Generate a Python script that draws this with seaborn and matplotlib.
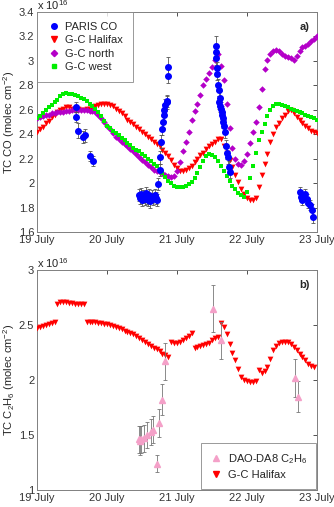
import numpy as np
import pandas as pd
import matplotlib
matplotlib.use("Agg")
import matplotlib.pyplot as plt
import seaborn as sns
from matplotlib.lines import Line2D
from matplotlib.ticker import FuncFormatter

sns.set_style("white")
plt.rcParams["font.family"] = ["Liberation Sans", "DejaVu Sans"]
plt.rcParams["mathtext.fontset"] = "custom"
plt.rcParams["mathtext.rm"] = "Liberation Sans"
plt.rcParams["mathtext.it"] = "Liberation Sans:italic"

day_labels = ["19 July", "20 July", "21 July", "22 July", "23 July"]

# ---- panel a: hourly model CO (x 1e16), hours from 19 July 00:00
gc_halifax_co = [
    2.42, 2.44, 2.46, 2.49, 2.51, 2.54, 2.56, 2.58, 2.60, 2.61, 2.62, 2.62,
    2.61, 2.61, 2.61, 2.60, 2.60, 2.61, 2.61, 2.62, 2.63, 2.64, 2.65, 2.65,
    2.65, 2.64, 2.63, 2.61, 2.59, 2.57, 2.55, 2.52, 2.50, 2.48, 2.46, 2.44,
    2.42, 2.40, 2.38, 2.36, 2.34, 2.32, 2.30, 2.27, 2.25, 2.22, 2.19, 2.15,
    2.12, 2.10, 2.10, 2.11, 2.12, 2.14, 2.17, 2.20, 2.23, 2.25, 2.28, 2.30,
    2.32, 2.34, 2.36, 2.36, 2.30, 2.25, 2.19, 2.13, 2.07, 2.01, 1.95, 1.91,
    1.88, 1.86, 1.86, 1.88, 1.97, 2.07, 2.16, 2.24, 2.34, 2.40, 2.46, 2.49,
    2.53, 2.56, 2.59, 2.60, 2.57, 2.54, 2.52, 2.49, 2.47, 2.45, 2.43, 2.42,
    2.41]
gc_north_co = [
    2.53, 2.54, 2.55, 2.56, 2.56, 2.57, 2.57, 2.58, 2.58, 2.58, 2.59, 2.59,
    2.60, 2.60, 2.60, 2.60, 2.60, 2.60, 2.59, 2.59, 2.58, 2.56, 2.53, 2.50,
    2.47, 2.44, 2.41, 2.38, 2.36, 2.34, 2.32, 2.30, 2.28, 2.26, 2.24, 2.21,
    2.19, 2.17, 2.15, 2.13, 2.11, 2.10, 2.09, 2.08, 2.07, 2.06, 2.05, 2.06,
    2.10, 2.17, 2.26, 2.34, 2.42, 2.52, 2.59, 2.65, 2.72, 2.80, 2.85, 2.90,
    2.95, 3.01, 3.06, 2.96, 2.84, 2.65, 2.45, 2.29, 2.20, 2.16, 2.15, 2.18,
    2.24, 2.33, 2.42, 2.50, 2.62, 2.77, 2.93, 3.01, 3.06, 3.08, 3.09, 3.08,
    3.06, 3.04, 3.03, 3.02, 3.01, 3.04, 3.08, 3.11, 3.12, 3.14, 3.16, 3.18,
    3.20]
gc_west_co = [
    2.53, 2.55, 2.57, 2.60, 2.62, 2.64, 2.66, 2.68, 2.71, 2.73, 2.74, 2.73,
    2.73, 2.72, 2.71, 2.70, 2.69, 2.67, 2.65, 2.63, 2.61, 2.58, 2.55, 2.51,
    2.47, 2.45, 2.43, 2.41, 2.39, 2.37, 2.35, 2.33, 2.31, 2.29, 2.27, 2.26,
    2.24, 2.22, 2.20, 2.18, 2.16, 2.14, 2.11, 2.08, 2.05, 2.02, 2.00, 1.98,
    1.97, 1.97, 1.97, 1.98, 1.99, 2.01, 2.04, 2.08, 2.13, 2.18, 2.22, 2.24,
    2.23, 2.21, 2.18, 2.14, 2.10, 2.06, 2.02, 1.98, 1.95, 1.92, 1.90, 1.89,
    1.93, 2.04, 2.14, 2.25, 2.35, 2.42, 2.48, 2.55, 2.60, 2.63, 2.65, 2.65,
    2.64, 2.63, 2.62, 2.61, 2.60, 2.59, 2.58, 2.57, 2.56, 2.55, 2.54, 2.53,
    2.52]

# PARIS CO observations (days since 19 July, x 1e16)
paris_day = [0.56, 0.56, 0.58, 0.66, 0.69, 0.76, 0.80,
             1.45, 1.47, 1.49, 1.50, 1.52, 1.54, 1.55, 1.57, 1.59, 1.60,
             1.62, 1.64, 1.66, 1.68, 1.70, 1.72,
             1.73, 1.75, 1.75, 1.77, 1.78, 1.80, 1.81, 1.82, 1.83, 1.85,
             1.86, 1.87, 1.87,
             2.55, 2.56, 2.56, 2.57, 2.57, 2.59, 2.60, 2.61, 2.60, 2.62,
             2.63, 2.64, 2.64, 2.65, 2.66, 2.67, 2.69, 2.70, 2.72, 2.73,
             2.74, 2.75,
             3.76, 3.77, 3.79, 3.83, 3.85, 3.87, 3.90, 3.93, 3.94]
paris_co = [2.62, 2.54, 2.43, 2.38, 2.39, 2.22, 2.18,
            1.90, 1.88, 1.91, 1.86, 1.89, 1.87, 1.92, 1.88, 1.86, 1.90,
            1.85, 1.89, 1.87, 1.90, 1.88, 1.86,
            1.99, 2.11, 2.21, 2.34, 2.44, 2.50, 2.56, 2.60, 2.64, 2.66,
            2.67, 2.88, 2.95,
            3.12, 3.07, 3.02, 2.94, 2.89, 2.80, 2.76, 2.70, 2.66, 2.63,
            2.61, 2.58, 2.56, 2.53, 2.50, 2.47, 2.42, 2.30, 2.25, 2.21,
            2.13, 2.09,
            1.93, 1.89, 1.86, 1.91, 1.87, 1.84, 1.82, 1.78, 1.72]
paris_err = [0.04, 0.04, 0.06, 0.05, 0.05, 0.04, 0.04,
             0.05, 0.05, 0.05, 0.05, 0.05, 0.05, 0.05, 0.05, 0.05, 0.05,
             0.05, 0.05, 0.05, 0.05, 0.05, 0.05,
             0.05, 0.05, 0.05, 0.05, 0.05, 0.05, 0.05, 0.05, 0.05, 0.05,
             0.05, 0.06, 0.08,
             0.08, 0.05, 0.05, 0.05, 0.05, 0.05, 0.05, 0.05, 0.05, 0.05,
             0.05, 0.05, 0.05, 0.05, 0.05, 0.05, 0.05, 0.05, 0.05, 0.05,
             0.05, 0.05,
             0.04, 0.04, 0.04, 0.04, 0.04, 0.04, 0.04, 0.05, 0.05]

# ---- panel b: hourly model C2H6 (x 1e16)
gc_halifax_c2h6 = [
    2.47, 2.48, 2.49, 2.50, 2.51, 2.52, 2.53,
    2.69, 2.71, 2.71, 2.71, 2.70, 2.70, 2.69, 2.69, 2.69, 2.69,
    2.53, 2.53, 2.53, 2.53, 2.52, 2.52, 2.51, 2.51, 2.50, 2.49, 2.48, 2.47,
    2.46, 2.45, 2.44, 2.43, 2.42, 2.40, 2.38, 2.36, 2.35, 2.33, 2.31, 2.29,
    2.28, 2.26, 2.24, 2.23, 2.21,
    2.35, 2.34, 2.34, 2.35, 2.36, 2.38, 2.40, 2.43,
    2.29, 2.30, 2.31, 2.32, 2.33, 2.34, 2.36, 2.38, 2.39,
    2.52, 2.48, 2.42, 2.33, 2.25, 2.18, 2.10, 2.03, 2.00, 1.99, 1.98, 1.98,
    1.99, 2.09, 2.06, 2.08, 2.12, 2.19, 2.27, 2.31, 2.34, 2.35, 2.35, 2.35,
    2.33, 2.30, 2.27, 2.24, 2.21, 2.18, 2.15, 2.13, 2.12]

dao_day = [1.45, 1.47, 1.49, 1.53, 1.57, 1.63, 1.66, 1.71, 1.74, 1.79, 1.83,
           2.51, 2.63, 3.69, 3.73]
dao_c2h6 = [1.46, 1.45, 1.46, 1.47, 1.50, 1.53, 1.55, 1.24, 1.61, 1.82, 2.17,
            2.65, 2.36, 2.02, 1.85]
dao_err = [0.12, 0.13, 0.12, 0.12, 0.12, 0.12, 0.12, 0.08, 0.13, 0.14, 0.17,
           0.21, 0.17, 0.17, 0.14]

red = "#ff0000"
purple = "#b400c8"
green = "#00ee00"
blue = "#0000ff"
pink = "#f4a0c8"

df_a = pd.DataFrame({
    "day": np.arange(len(gc_halifax_co)) / 24.0,
    "halifax": gc_halifax_co,
    "north": gc_north_co,
    "west": gc_west_co,
})
df_b = pd.DataFrame({
    "day": np.arange(len(gc_halifax_c2h6)) / 24.0,
    "halifax": gc_halifax_c2h6,
})

fig = plt.figure(figsize=(3.34, 5.07), dpi=100)
ax1 = fig.add_axes([37 / 334, 1 - 232 / 507, 280 / 334, 220 / 507])
ax2 = fig.add_axes([37 / 334, 1 - 490 / 507, 280 / 334, 220 / 507])

fmt = FuncFormatter(lambda v, p: "%g" % round(v, 2))
fs = 8


def style_axis(ax):
    ax.set_xlim(0, 4)
    ax.set_xticks(range(5))
    ax.set_xticklabels(day_labels)
    ax.yaxis.set_major_formatter(fmt)
    ax.tick_params(direction="in", length=3, width=0.6, top=True, right=True,
                   labelsize=fs, colors="#333333", pad=2)
    for s in ax.spines.values():
        s.set_color("#808080")
        s.set_linewidth(0.7)
    ax.set_xlabel("")


# panel a
sns.scatterplot(data=df_a, x="day", y="halifax", ax=ax1, marker="v", s=17,
                color=red, linewidth=0, zorder=3)
sns.scatterplot(data=df_a, x="day", y="north", ax=ax1, marker="D", s=11,
                color=purple, linewidth=0, zorder=3)
sns.scatterplot(data=df_a, x="day", y="west", ax=ax1, marker="s", s=12,
                color=green, linewidth=0, zorder=3)
ax1.errorbar(paris_day, paris_co, yerr=paris_err, fmt="o", ms=4,
             color=blue, mec=blue, ecolor="#555555", elinewidth=0.6,
             capsize=1.5, capthick=0.6, zorder=4)
ax1.set_ylim(1.6, 3.4)
ax1.set_yticks(np.arange(1.6, 3.41, 0.2))
style_axis(ax1)
ax1.set_ylabel("TC CO (molec cm$^{-2}$)", fontsize=fs, labelpad=1)
ax1.text(0.0, 1.0, "x 10$^{16}$", transform=ax1.transAxes, fontsize=fs,
         va="bottom", ha="left")
ax1.text(0.975, 0.955, "a)", transform=ax1.transAxes, fontsize=fs,
         fontweight="bold", ha="right", va="top")

handles_a = [
    Line2D([], [], ls="", marker="o", ms=4, color=blue),
    Line2D([], [], ls="", marker="v", ms=4, color=red),
    Line2D([], [], ls="", marker="D", ms=3.2, color=purple),
    Line2D([], [], ls="", marker="s", ms=3.4, color=green),
]
leg = ax1.legend(handles_a, ["PARIS CO", "G-C Halifax", "G-C north", "G-C west"],
                 loc="upper left", fontsize=fs, frameon=True, fancybox=False,
                 borderaxespad=0, handletextpad=0.4, labelspacing=0.3,
                 handlelength=1.2, borderpad=0.9)
leg.get_frame().set_edgecolor("#808080")
leg.get_frame().set_linewidth(0.7)

# panel b
sns.scatterplot(data=df_b, x="day", y="halifax", ax=ax2, marker="v", s=17,
                color=red, linewidth=0, zorder=3)
ax2.errorbar(dao_day, dao_c2h6, yerr=dao_err, fmt="^", ms=4,
             color=pink, mec=pink, ecolor="#777777", elinewidth=0.6,
             capsize=1.5, capthick=0.6, zorder=4)
ax2.set_ylim(1, 3)
ax2.set_yticks([1, 1.5, 2, 2.5, 3])
style_axis(ax2)
ax2.set_ylabel("TC C$_2$H$_6$ (molec cm$^{-2}$)", fontsize=fs, labelpad=1)
ax2.text(0.0, 1.0, "x 10$^{16}$", transform=ax2.transAxes, fontsize=fs,
         va="bottom", ha="left")
ax2.text(0.975, 0.955, "b)", transform=ax2.transAxes, fontsize=fs,
         fontweight="bold", ha="right", va="top")

handles_b = [
    Line2D([], [], ls="", marker="^", ms=4, color=pink),
    Line2D([], [], ls="", marker="v", ms=4, color=red),
]
leg2 = ax2.legend(handles_b, ["DAO-DA8 C$_2$H$_6$", "G-C Halifax"],
                  loc="lower right", fontsize=fs, frameon=True, fancybox=False,
                  borderaxespad=0.1, handletextpad=0.4, labelspacing=0.4,
                  handlelength=1.2, borderpad=0.8)
leg2.get_frame().set_edgecolor("#808080")
leg2.get_frame().set_linewidth(0.7)

fig.savefig("out.png", dpi=100)
